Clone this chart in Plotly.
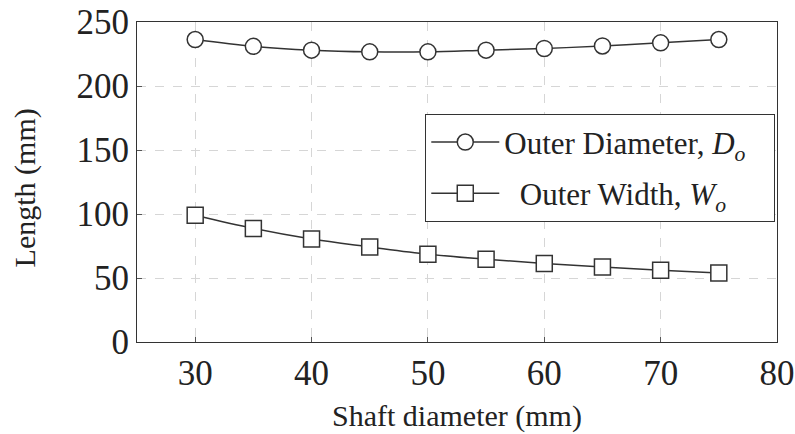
import plotly.graph_objects as go

shaft = [30, 35, 40, 45, 50, 55, 60, 65, 70, 75]
outer_diameter = [236.3, 231, 228, 226.7, 226.7, 228, 229.3, 231.3, 233.7, 236.3]
outer_width = [99, 88.7, 80.4, 74.3, 68.6, 64.7, 61.3, 58.6, 56, 54]

x_ticks = [30, 40, 50, 60, 70, 80]
y_ticks = [0, 50, 100, 150, 200, 250]

font_family = "Liberation Serif"
line_col = "#333333"
text_col = "#222222"

fig = go.Figure()
fig.add_trace(go.Scatter(
    x=shaft, y=outer_diameter, mode="lines+markers",
    name="Outer Diameter, <i>D<sub>o</sub></i>   ", legendgroup="a",
    line=dict(color=line_col, width=1.5, shape="spline"),
    marker=dict(symbol="circle", size=16, color="white",
                line=dict(color=line_col, width=1.5)),
))
fig.add_trace(go.Scatter(
    x=shaft, y=outer_width, mode="lines+markers",
    name="  Outer Width, <i>W<sub>o</sub></i>", legendgroup="b",
    line=dict(color=line_col, width=1.5, shape="spline"),
    marker=dict(symbol="square", size=16, color="white",
                line=dict(color=line_col, width=1.5)),
))

axis_common = dict(
    showline=True, linecolor="#333333", linewidth=1.2, mirror=True,
    showgrid=True, gridcolor="#d6d6d6", griddash="dash", gridwidth=1,
    ticks="inside", ticklen=5, tickcolor="#555555",
    zeroline=False, automargin=False, ticklabeloverflow="allow",
    tickfont=dict(family=font_family, size=35, color=text_col),
)

fig.update_layout(
    width=795, height=434,
    margin=dict(l=137, r=18, t=22, b=92),
    paper_bgcolor="white", plot_bgcolor="white",
    font=dict(family=font_family, color=text_col),
    xaxis=dict(range=[25, 80], tickvals=x_ticks, **axis_common),
    yaxis=dict(range=[0, 250], tickvals=y_ticks, **axis_common),
    legend=dict(x=0.997, y=0.712, xanchor="right", yanchor="top",
                bgcolor="white", bordercolor="#333333", borderwidth=1.2,
                font=dict(family=font_family, size=31, color=text_col),
                itemwidth=68, tracegroupgap=8),
    showlegend=True,
    annotations=[
        dict(text="Shaft diameter (mm)", xref="paper", yref="paper",
             x=0.5, y=-0.231, xanchor="center", yanchor="middle",
             showarrow=False, font=dict(family=font_family, size=30, color=text_col)),
        dict(text="Length (mm)", xref="paper", yref="paper",
             x=-0.175, y=0.48, xanchor="center", yanchor="middle", textangle=-90,
             showarrow=False, font=dict(family=font_family, size=30, color=text_col)),
    ],
)

fig.write_html("out.html",
               config={"displayModeBar": False},
               post_script="document.body.style.margin='0';document.body.style.overflow='hidden';")
